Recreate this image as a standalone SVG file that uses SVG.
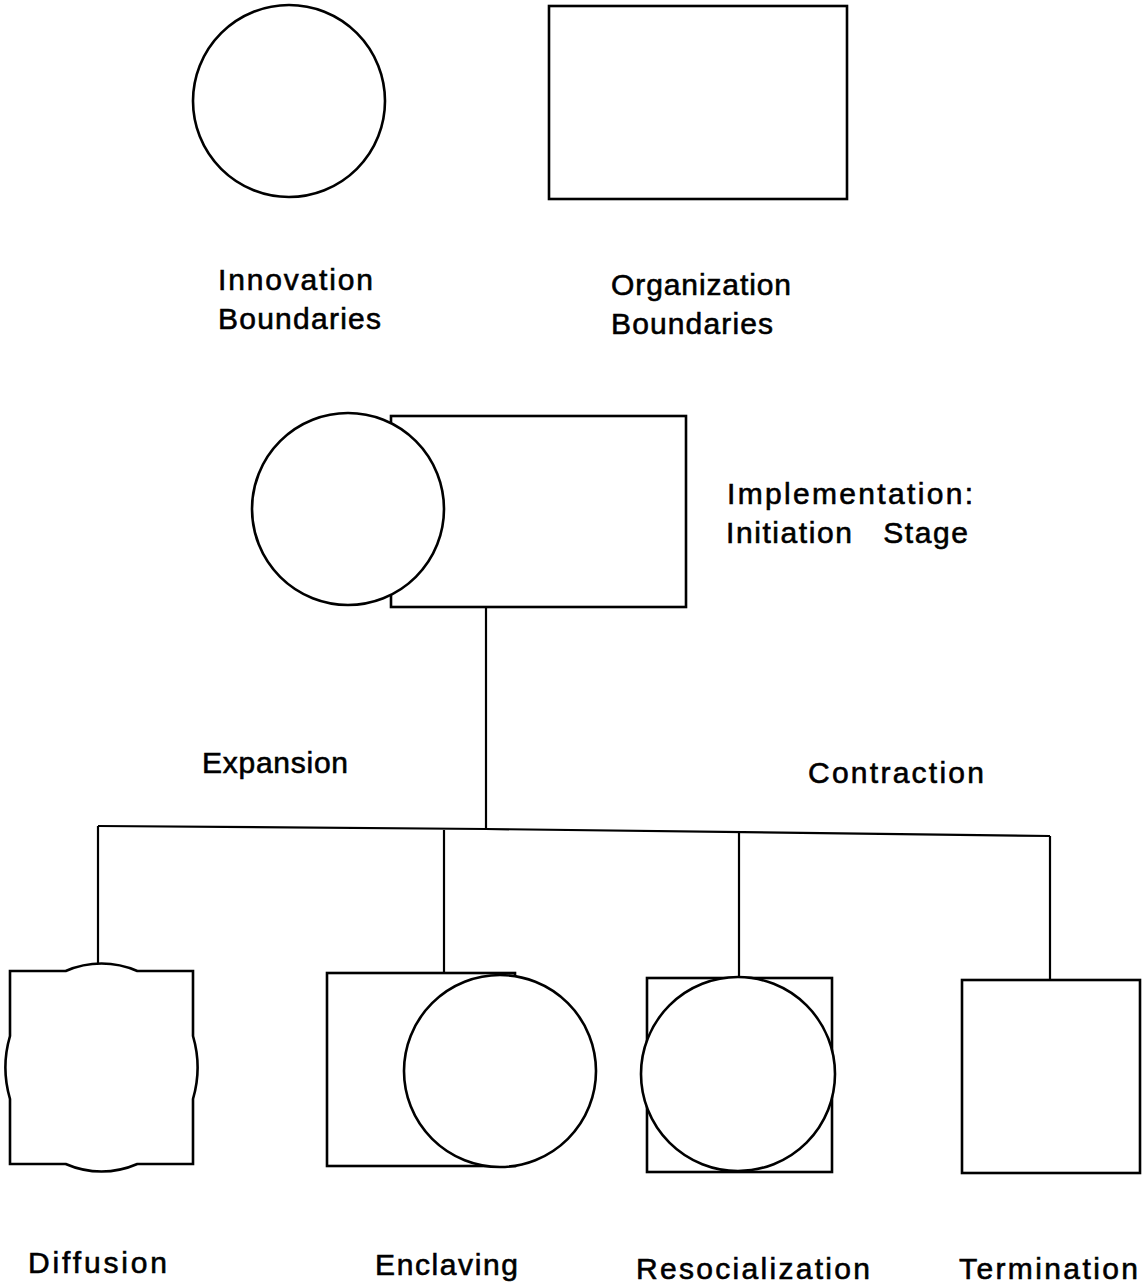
<svg xmlns="http://www.w3.org/2000/svg" width="1142" height="1286" viewBox="0 0 1142 1286">
<style>
.s{fill:#fff;stroke:#000;stroke-width:2.6}
.c{fill:none;stroke:#000;stroke-width:2.2}
text{font-family:"Liberation Sans",Arial,sans-serif;font-size:30px;fill:#000;stroke:#000;stroke-width:0.6}
</style>
<rect width="1142" height="1286" fill="#fff"/>
<g id="connectors">
<line class="c" x1="486" y1="607" x2="486" y2="829"/>
<polyline class="c" points="98,826 486,829 1050,836"/>
<line class="c" x1="98" y1="826" x2="98" y2="964"/>
<line class="c" x1="444" y1="830" x2="444" y2="973"/>
<line class="c" x1="739" y1="832" x2="739" y2="978"/>
<line class="c" x1="1050" y1="836" x2="1050" y2="980"/>
</g>
<g id="innovation-boundaries">
<circle class="s" cx="289" cy="101" r="96"/>
<text x="218" y="290" textLength="155" lengthAdjust="spacing">Innovation</text>
<text x="218" y="329" textLength="163" lengthAdjust="spacing">Boundaries</text>
</g>
<g id="organization-boundaries">
<rect class="s" x="549" y="6" width="298" height="193"/>
<text x="611" y="295" textLength="180" lengthAdjust="spacing">Organization</text>
<text x="611" y="334" textLength="162" lengthAdjust="spacing">Boundaries</text>
</g>
<g id="initiation-stage">
<rect class="s" x="391" y="416" width="295" height="191"/>
<circle class="s" cx="348" cy="509" r="96"/>
<text x="727" y="504" textLength="246" lengthAdjust="spacing">Implementation:</text>
<text x="726" y="543" textLength="242" lengthAdjust="spacing" xml:space="preserve">Initiation   Stage</text>
</g>
<g id="expansion-label">
<text x="202" y="773" textLength="146" lengthAdjust="spacing">Expansion</text>
</g>
<g id="contraction-label">
<text x="808" y="783" textLength="176" lengthAdjust="spacing">Contraction</text>
</g>
<g id="diffusion">
<path class="s" d="M10,971 L65.7,971 A96,104 0 0 1 137.3,971 L193,971 L193,1036 A96,104 0 0 1 193,1099 L193,1164 L137.3,1164 A96,104 0 0 1 65.7,1164 L10,1164 L10,1099 A96,104 0 0 1 10,1036 Z"/>
<text x="28" y="1273" textLength="139" lengthAdjust="spacing">Diffusion</text>
</g>
<g id="enclaving">
<rect class="s" x="327" y="973" width="188" height="193"/>
<circle class="s" cx="500" cy="1071" r="96"/>
<text x="375" y="1275" textLength="143" lengthAdjust="spacing">Enclaving</text>
</g>
<g id="resocialization">
<rect class="s" x="647" y="978" width="185" height="194"/>
<circle class="s" cx="738" cy="1074" r="97"/>
<text x="636" y="1279" textLength="234" lengthAdjust="spacing">Resocialization</text>
</g>
<g id="termination">
<rect class="s" x="962" y="980" width="178" height="193"/>
<text x="959" y="1279" textLength="179" lengthAdjust="spacing">Termination</text>
</g>
</svg>
